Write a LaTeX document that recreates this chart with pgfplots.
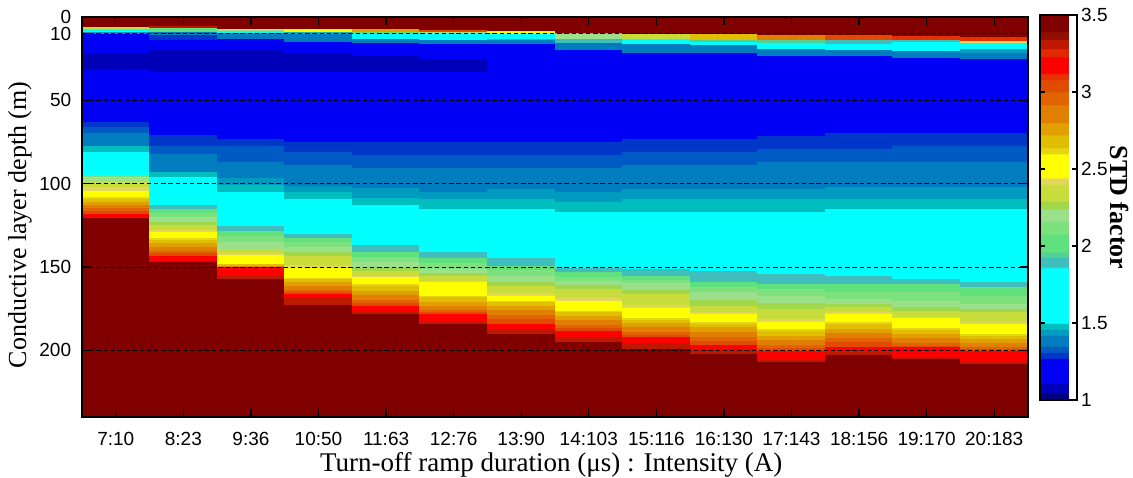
\documentclass[border=0pt]{standalone}
\usepackage{pgfplots}
\pgfplotsset{compat=1.18}
\usepackage{fontspec}
\setmainfont{Liberation Serif}
\newfontfamily\sansfont{Liberation Sans}
\pgfplotsset{/pgf/number format/assume math mode=true,
  cell/.style={surf, shader=flat corner, mesh/cols=2, point meta=explicit}}
\begin{document}
\begin{tikzpicture}
\path[use as bounding box] (0,0) rectangle (566.5pt,238.5pt);
\begin{axis}[
  at={(41pt,30pt)}, anchor=south west,
  scale only axis, width=473pt, height=200pt,
  xmin=-0.5, xmax=13.5, ymin=0, ymax=240, y dir=reverse,
  xtick={0,...,13},
  xticklabels={7:10,8:23,9:36,10:50,11:63,12:76,13:90,14:103,15:116,16:130,17:143,18:156,19:170,20:183},
  ytick={0,10,50,100,150,200},
  tick align=inside, tick pos=both, major tick length=4pt,
  tick label style={font=\sansfont\fontsize{9.5}{11}\selectfont, black},
  xticklabel style={anchor=base, yshift=-14pt},
  yticklabel style={anchor=east, xshift=-1.9pt},
  ymajorgrids, grid style={black, dash pattern=on 2.2pt off 1.4pt, line width=0.5pt},
  axis on top,
  axis line style={black, line width=0.6pt},
  every tick/.style={black, line width=0.6pt},
  xlabel={Turn-off ramp duration (μs) : Intensity (A)},
  ylabel={Conductive layer depth (m)},
  every axis x label/.style={at={(axis description cs:0.496,0)}, anchor=base, yshift=-27pt, font=\fontsize{13.5}{15}\selectfont},
  every axis y label/.style={at={(axis description cs:-0.0655,0.48)}, anchor=center, rotate=90, font=\fontsize{13}{15}\selectfont},
  colormap={stdmap}{
    rgb255(0pt)=(0,0,128) rgb255(39pt)=(0,0,128)
    rgb255(40pt)=(0,0,185) rgb255(109pt)=(0,0,185)
    rgb255(110pt)=(0,0,245) rgb255(269pt)=(0,0,245)
    rgb255(270pt)=(0,55,200) rgb255(309pt)=(0,55,200)
    rgb255(310pt)=(0,90,195) rgb255(349pt)=(0,90,195)
    rgb255(350pt)=(0,125,190) rgb255(419pt)=(0,125,190)
    rgb255(420pt)=(0,155,190) rgb255(459pt)=(0,155,190)
    rgb255(460pt)=(0,190,190) rgb255(499pt)=(0,190,190)
    rgb255(500pt)=(0,255,255) rgb255(859pt)=(0,255,255)
    rgb255(860pt)=(64,190,190) rgb255(929pt)=(64,190,190)
    rgb255(930pt)=(80,210,150) rgb255(959pt)=(80,210,150)
    rgb255(960pt)=(95,225,125) rgb255(1079pt)=(95,225,125)
    rgb255(1080pt)=(125,225,125) rgb255(1159pt)=(125,225,125)
    rgb255(1160pt)=(155,225,140) rgb255(1239pt)=(155,225,140)
    rgb255(1240pt)=(160,215,75) rgb255(1289pt)=(160,215,75)
    rgb255(1290pt)=(200,220,60) rgb255(1399pt)=(200,220,60)
    rgb255(1400pt)=(225,215,90) rgb255(1439pt)=(225,215,90)
    rgb255(1440pt)=(255,255,0) rgb255(1599pt)=(255,255,0)
    rgb255(1600pt)=(230,215,20) rgb255(1639pt)=(230,215,20)
    rgb255(1640pt)=(225,190,0) rgb255(1719pt)=(225,190,0)
    rgb255(1720pt)=(225,160,0) rgb255(1799pt)=(225,160,0)
    rgb255(1800pt)=(225,128,0) rgb255(1919pt)=(225,128,0)
    rgb255(1920pt)=(225,100,0) rgb255(1999pt)=(225,100,0)
    rgb255(2000pt)=(225,75,0) rgb255(2079pt)=(225,75,0)
    rgb255(2080pt)=(230,50,0) rgb255(2119pt)=(230,50,0)
    rgb255(2120pt)=(255,0,0) rgb255(2229pt)=(255,0,0)
    rgb255(2230pt)=(225,40,0) rgb255(2279pt)=(225,40,0)
    rgb255(2280pt)=(190,25,0) rgb255(2339pt)=(190,25,0)
    rgb255(2340pt)=(145,15,0) rgb255(2389pt)=(145,15,0)
    rgb255(2390pt)=(128,0,0) rgb255(2500pt)=(128,0,0)
  },
  point meta min=1, point meta max=3.5,
  colorbar right,
  colorbar style={
    at={(parent axis.north east)}, anchor=north west, xshift=-2.5pt, yshift=1pt,
    scale only axis, width=18.5pt, height=192.5pt,
    ytick={1,1.5,2,2.5,3,3.5},
    tick align=inside, ytick pos=both, yticklabel pos=right, major tick length=2.5pt,
    yticklabel style={font=\sansfont\fontsize{9.5}{11}\selectfont, black, anchor=west, xshift=-1.5pt},
    axis line style={black, line width=0.6pt},
    every tick/.style={black, line width=0.6pt},
    ylabel={\textbf{STD factor}},
    every axis y label/.style={at={(axis description cs:2.16,0.5)}, anchor=center, rotate=-90, font=\fontsize{13}{15}\selectfont},
  },
]
% column 7:10
\addplot[cell] coordinates {
(-0.5,0)[3.45](0.5,0)[3.45]
(-0.5,6)[2.345](0.5,6)[2.345]
(-0.5,7.5)[1.68](0.5,7.5)[1.68]
(-0.5,9)[1.44](0.5,9)[1.44]
(-0.5,10.5)[1.19](0.5,10.5)[1.19]
(-0.5,21.6)[1.075](0.5,21.6)[1.075]
(-0.5,31.6)[1.19](0.5,31.6)[1.19]
(-0.5,63.5)[1.29](0.5,63.5)[1.29]
(-0.5,66.5)[1.33](0.5,66.5)[1.33]
(-0.5,69.6)[1.385](0.5,69.6)[1.385]
(-0.5,77.5)[1.48](0.5,77.5)[1.48]
(-0.5,81.1)[1.68](0.5,81.1)[1.68]
(-0.5,95.3)[2.12](0.5,95.3)[2.12]
(-0.5,96.5)[2.20](0.5,96.5)[2.20]
(-0.5,98.5)[2.345](0.5,98.5)[2.345]
(-0.5,102.5)[2.42](0.5,102.5)[2.42]
(-0.5,104.5)[2.52](0.5,104.5)[2.52]
(-0.5,108.5)[2.62](0.5,108.5)[2.62]
(-0.5,109.5)[2.68](0.5,109.5)[2.68]
(-0.5,111)[2.76](0.5,111)[2.76]
(-0.5,113)[2.86](0.5,113)[2.86]
(-0.5,115)[2.96](0.5,115)[2.96]
(-0.5,116.5)[3.04](0.5,116.5)[3.04]
(-0.5,118.5)[3.175](0.5,118.5)[3.175]
(-0.5,121)[3.45](0.5,121)[3.45]
(-0.5,240)[3.45](0.5,240)[3.45]
};
% column 8:23
\addplot[cell] coordinates {
(0.5,0)[3.45](1.5,0)[3.45]
(0.5,5.5)[3.31](1.5,5.5)[3.31]
(0.5,6.8)[2.02](1.5,6.8)[2.02]
(0.5,9)[1.385](1.5,9)[1.385]
(0.5,11.2)[1.29](1.5,11.2)[1.29]
(0.5,14)[1.19](1.5,14)[1.19]
(0.5,20)[1.075](1.5,20)[1.075]
(0.5,33.2)[1.19](1.5,33.2)[1.19]
(0.5,71.2)[1.29](1.5,71.2)[1.29]
(0.5,77.5)[1.33](1.5,77.5)[1.33]
(0.5,82.6)[1.385](1.5,82.6)[1.385]
(0.5,93.2)[1.48](1.5,93.2)[1.48]
(0.5,96.5)[1.68](1.5,96.5)[1.68]
(0.5,113.1)[1.895](1.5,113.1)[1.895]
(0.5,115.5)[2.02](1.5,115.5)[2.02]
(0.5,118)[2.12](1.5,118)[2.12]
(0.5,120.5)[2.20](1.5,120.5)[2.20]
(0.5,123)[2.265](1.5,123)[2.265]
(0.5,125.1)[2.345](1.5,125.1)[2.345]
(0.5,128)[2.42](1.5,128)[2.42]
(0.5,129.1)[2.52](1.5,129.1)[2.52]
(0.5,133.1)[2.62](1.5,133.1)[2.62]
(0.5,134)[2.68](1.5,134)[2.68]
(0.5,136)[2.76](1.5,136)[2.76]
(0.5,138)[2.86](1.5,138)[2.86]
(0.5,140.5)[2.96](1.5,140.5)[2.96]
(0.5,142)[3.04](1.5,142)[3.04]
(0.5,143.5)[3.175](1.5,143.5)[3.175]
(0.5,146.5)[3.31](1.5,146.5)[3.31]
(0.5,147.5)[3.45](1.5,147.5)[3.45]
(0.5,240)[3.45](1.5,240)[3.45]
};
% column 9:36
\addplot[cell] coordinates {
(1.5,0)[3.45](2.5,0)[3.45]
(1.5,7.2)[2.20](2.5,7.2)[2.20]
(1.5,8.8)[1.68](2.5,8.8)[1.68]
(1.5,9.9)[1.385](2.5,9.9)[1.385]
(1.5,13.6)[1.19](2.5,13.6)[1.19]
(1.5,20)[1.075](2.5,20)[1.075]
(1.5,33.2)[1.19](2.5,33.2)[1.19]
(1.5,73.2)[1.29](2.5,73.2)[1.29]
(1.5,77.5)[1.33](2.5,77.5)[1.33]
(1.5,87.1)[1.385](2.5,87.1)[1.385]
(1.5,97.1)[1.44](2.5,97.1)[1.44]
(1.5,101)[1.48](2.5,101)[1.48]
(1.5,105.1)[1.68](2.5,105.1)[1.68]
(1.5,125.5)[1.895](2.5,125.5)[1.895]
(1.5,128.5)[2.02](2.5,128.5)[2.02]
(1.5,131.5)[2.12](2.5,131.5)[2.12]
(1.5,135.5)[2.20](2.5,135.5)[2.20]
(1.5,139.5)[2.345](2.5,139.5)[2.345]
(1.5,142)[2.42](2.5,142)[2.42]
(1.5,143)[2.52](2.5,143)[2.52]
(1.5,148.5)[2.68](2.5,148.5)[2.68]
(1.5,149.5)[2.86](2.5,149.5)[2.86]
(1.5,150.5)[3.175](2.5,150.5)[3.175]
(1.5,155.5)[3.31](2.5,155.5)[3.31]
(1.5,157.3)[3.45](2.5,157.3)[3.45]
(1.5,240)[3.45](2.5,240)[3.45]
};
% column 10:50
\addplot[cell] coordinates {
(2.5,0)[3.45](3.5,0)[3.45]
(2.5,7.2)[2.52](3.5,7.2)[2.52]
(2.5,9)[1.48](3.5,9)[1.48]
(2.5,10.6)[1.385](3.5,10.6)[1.385]
(2.5,15.2)[1.19](3.5,15.2)[1.19]
(2.5,21.6)[1.075](3.5,21.6)[1.075]
(2.5,33.2)[1.19](3.5,33.2)[1.19]
(2.5,75.1)[1.29](3.5,75.1)[1.29]
(2.5,81.1)[1.33](3.5,81.1)[1.33]
(2.5,89.1)[1.385](3.5,89.1)[1.385]
(2.5,101.5)[1.44](3.5,101.5)[1.44]
(2.5,105.5)[1.48](3.5,105.5)[1.48]
(2.5,109.5)[1.68](3.5,109.5)[1.68]
(2.5,130.5)[1.895](3.5,130.5)[1.895]
(2.5,133)[2.02](3.5,133)[2.02]
(2.5,135.1)[2.12](3.5,135.1)[2.12]
(2.5,138)[2.20](3.5,138)[2.20]
(2.5,141.5)[2.265](3.5,141.5)[2.265]
(2.5,143.5)[2.345](3.5,143.5)[2.345]
(2.5,149)[2.42](3.5,149)[2.42]
(2.5,151)[2.52](3.5,151)[2.52]
(2.5,157)[2.62](3.5,157)[2.62]
(2.5,157.5)[2.68](3.5,157.5)[2.68]
(2.5,159.5)[2.76](3.5,159.5)[2.76]
(2.5,161.5)[2.86](3.5,161.5)[2.86]
(2.5,164)[2.96](3.5,164)[2.96]
(2.5,165.5)[3.04](3.5,165.5)[3.04]
(2.5,166.5)[3.175](3.5,166.5)[3.175]
(2.5,169)[3.31](3.5,169)[3.31]
(2.5,173)[3.45](3.5,173)[3.45]
(2.5,240)[3.45](3.5,240)[3.45]
};
% column 11:63
\addplot[cell] coordinates {
(3.5,0)[3.45](4.5,0)[3.45]
(3.5,7.6)[2.76](4.5,7.6)[2.76]
(3.5,9.2)[2.02](4.5,9.2)[2.02]
(3.5,10.2)[1.68](4.5,10.2)[1.68]
(3.5,13.6)[1.385](4.5,13.6)[1.385]
(3.5,15.6)[1.19](4.5,15.6)[1.19]
(3.5,23.6)[1.075](4.5,23.6)[1.075]
(3.5,33.2)[1.19](4.5,33.2)[1.19]
(3.5,75.1)[1.29](4.5,75.1)[1.29]
(3.5,83.1)[1.33](4.5,83.1)[1.33]
(3.5,91.1)[1.385](4.5,91.1)[1.385]
(3.5,103.1)[1.44](4.5,103.1)[1.44]
(3.5,109.1)[1.48](4.5,109.1)[1.48]
(3.5,113.1)[1.68](4.5,113.1)[1.68]
(3.5,137.1)[1.895](4.5,137.1)[1.895]
(3.5,141.1)[2.02](4.5,141.1)[2.02]
(3.5,144)[2.12](4.5,144)[2.12]
(3.5,147.5)[2.20](4.5,147.5)[2.20]
(3.5,150)[2.265](4.5,150)[2.265]
(3.5,152.5)[2.345](4.5,152.5)[2.345]
(3.5,155.5)[2.42](4.5,155.5)[2.42]
(3.5,156.5)[2.52](4.5,156.5)[2.52]
(3.5,160.5)[2.62](4.5,160.5)[2.62]
(3.5,161.5)[2.68](4.5,161.5)[2.68]
(3.5,164.5)[2.76](4.5,164.5)[2.76]
(3.5,167)[2.86](4.5,167)[2.86]
(3.5,170)[2.96](4.5,170)[2.96]
(3.5,172)[3.04](4.5,172)[3.04]
(3.5,173.5)[3.175](4.5,173.5)[3.175]
(3.5,177)[3.31](4.5,177)[3.31]
(3.5,178.5)[3.45](4.5,178.5)[3.45]
(3.5,240)[3.45](4.5,240)[3.45]
};
% column 12:76
\addplot[cell] coordinates {
(4.5,0)[3.45](5.5,0)[3.45]
(4.5,8.2)[3.04](5.5,8.2)[3.04]
(4.5,9.2)[2.20](5.5,9.2)[2.20]
(4.5,10.4)[1.68](5.5,10.4)[1.68]
(4.5,14)[1.385](5.5,14)[1.385]
(4.5,16.6)[1.19](5.5,16.6)[1.19]
(4.5,25.2)[1.075](5.5,25.2)[1.075]
(4.5,33.2)[1.19](5.5,33.2)[1.19]
(4.5,75.1)[1.29](5.5,75.1)[1.29]
(4.5,83.1)[1.33](5.5,83.1)[1.33]
(4.5,91.1)[1.385](5.5,91.1)[1.385]
(4.5,105)[1.44](5.5,105)[1.44]
(4.5,109.5)[1.48](5.5,109.5)[1.48]
(4.5,115.5)[1.68](5.5,115.5)[1.68]
(4.5,141.5)[1.895](5.5,141.5)[1.895]
(4.5,145.1)[2.02](5.5,145.1)[2.02]
(4.5,148)[2.12](5.5,148)[2.12]
(4.5,151.5)[2.20](5.5,151.5)[2.20]
(4.5,154)[2.265](5.5,154)[2.265]
(4.5,155.5)[2.345](5.5,155.5)[2.345]
(4.5,158.5)[2.42](5.5,158.5)[2.42]
(4.5,159.5)[2.52](5.5,159.5)[2.52]
(4.5,167.5)[2.62](5.5,167.5)[2.62]
(4.5,168.5)[2.68](5.5,168.5)[2.68]
(4.5,171.5)[2.76](5.5,171.5)[2.76]
(4.5,173.5)[2.86](5.5,173.5)[2.86]
(4.5,176)[2.96](5.5,176)[2.96]
(4.5,177.5)[3.04](5.5,177.5)[3.04]
(4.5,178.5)[3.175](5.5,178.5)[3.175]
(4.5,183)[3.31](5.5,183)[3.31]
(4.5,184.5)[3.45](5.5,184.5)[3.45]
(4.5,240)[3.45](5.5,240)[3.45]
};
% column 13:90
\addplot[cell] coordinates {
(5.5,0)[3.45](6.5,0)[3.45]
(5.5,8.8)[2.52](6.5,8.8)[2.52]
(5.5,10.4)[1.68](6.5,10.4)[1.68]
(5.5,13.2)[1.48](6.5,13.2)[1.48]
(5.5,14)[1.385](6.5,14)[1.385]
(5.5,16.6)[1.19](6.5,16.6)[1.19]
(5.5,75.3)[1.29](6.5,75.3)[1.29]
(5.5,83.1)[1.33](6.5,83.1)[1.33]
(5.5,91.1)[1.385](6.5,91.1)[1.385]
(5.5,103.5)[1.44](6.5,103.5)[1.44]
(5.5,109.5)[1.48](6.5,109.5)[1.48]
(5.5,115.5)[1.68](6.5,115.5)[1.68]
(5.5,145.1)[1.895](6.5,145.1)[1.895]
(5.5,149.5)[2.02](6.5,149.5)[2.02]
(5.5,152)[2.12](6.5,152)[2.12]
(5.5,155.5)[2.20](6.5,155.5)[2.20]
(5.5,159)[2.265](6.5,159)[2.265]
(5.5,161.5)[2.345](6.5,161.5)[2.345]
(5.5,166)[2.42](6.5,166)[2.42]
(5.5,167.5)[2.52](6.5,167.5)[2.52]
(5.5,170.5)[2.62](6.5,170.5)[2.62]
(5.5,171.5)[2.68](6.5,171.5)[2.68]
(5.5,173.5)[2.76](6.5,173.5)[2.76]
(5.5,176)[2.86](6.5,176)[2.86]
(5.5,179)[2.96](6.5,179)[2.96]
(5.5,181.5)[3.04](6.5,181.5)[3.04]
(5.5,184.5)[3.175](6.5,184.5)[3.175]
(5.5,187.5)[3.31](6.5,187.5)[3.31]
(5.5,190.5)[3.45](6.5,190.5)[3.45]
(5.5,240)[3.45](6.5,240)[3.45]
};
% column 14:103
\addplot[cell] coordinates {
(6.5,0)[3.45](7.5,0)[3.45]
(6.5,9.6)[2.76](7.5,9.6)[2.76]
(6.5,10.6)[2.20](7.5,10.6)[2.20]
(6.5,13.6)[1.895](7.5,13.6)[1.895]
(6.5,16)[1.385](7.5,16)[1.385]
(6.5,20)[1.19](7.5,20)[1.19]
(6.5,75.3)[1.29](7.5,75.3)[1.29]
(6.5,83.1)[1.33](7.5,83.1)[1.33]
(6.5,91.1)[1.385](7.5,91.1)[1.385]
(6.5,105)[1.44](7.5,105)[1.44]
(6.5,111)[1.48](7.5,111)[1.48]
(6.5,117.5)[1.68](7.5,117.5)[1.68]
(6.5,151)[1.895](7.5,151)[1.895]
(6.5,153.5)[2.02](7.5,153.5)[2.02]
(6.5,156)[2.12](7.5,156)[2.12]
(6.5,158.5)[2.20](7.5,158.5)[2.20]
(6.5,161)[2.265](7.5,161)[2.265]
(6.5,163.5)[2.345](7.5,163.5)[2.345]
(6.5,169)[2.42](7.5,169)[2.42]
(6.5,170.5)[2.52](7.5,170.5)[2.52]
(6.5,176.5)[2.62](7.5,176.5)[2.62]
(6.5,177.5)[2.68](7.5,177.5)[2.68]
(6.5,179.5)[2.76](7.5,179.5)[2.76]
(6.5,182)[2.86](7.5,182)[2.86]
(6.5,185)[2.96](7.5,185)[2.96]
(6.5,187)[3.04](7.5,187)[3.04]
(6.5,188.5)[3.175](7.5,188.5)[3.175]
(6.5,192.5)[3.31](7.5,192.5)[3.31]
(6.5,195)[3.45](7.5,195)[3.45]
(6.5,240)[3.45](7.5,240)[3.45]
};
% column 15:116
\addplot[cell] coordinates {
(7.5,0)[3.45](8.5,0)[3.45]
(7.5,10.6)[2.345](8.5,10.6)[2.345]
(7.5,13.2)[1.68](8.5,13.2)[1.68]
(7.5,16.6)[1.385](8.5,16.6)[1.385]
(7.5,21.6)[1.19](8.5,21.6)[1.19]
(7.5,73.6)[1.29](8.5,73.6)[1.29]
(7.5,81.5)[1.33](8.5,81.5)[1.33]
(7.5,89.1)[1.385](8.5,89.1)[1.385]
(7.5,103.5)[1.44](8.5,103.5)[1.44]
(7.5,109.5)[1.48](8.5,109.5)[1.48]
(7.5,117.5)[1.68](8.5,117.5)[1.68]
(7.5,151.5)[1.895](8.5,151.5)[1.895]
(7.5,155.5)[2.02](8.5,155.5)[2.02]
(7.5,158)[2.12](8.5,158)[2.12]
(7.5,160)[2.20](8.5,160)[2.20]
(7.5,164)[2.265](8.5,164)[2.265]
(7.5,166.5)[2.345](8.5,166.5)[2.345]
(7.5,173)[2.42](8.5,173)[2.42]
(7.5,175)[2.52](8.5,175)[2.52]
(7.5,181)[2.62](8.5,181)[2.62]
(7.5,182)[2.68](8.5,182)[2.68]
(7.5,184)[2.76](8.5,184)[2.76]
(7.5,186.5)[2.86](8.5,186.5)[2.86]
(7.5,189.5)[2.96](8.5,189.5)[2.96]
(7.5,191)[3.04](8.5,191)[3.04]
(7.5,192.5)[3.175](8.5,192.5)[3.175]
(7.5,196)[3.31](8.5,196)[3.31]
(7.5,199.5)[3.45](8.5,199.5)[3.45]
(7.5,240)[3.45](8.5,240)[3.45]
};
% column 16:130
\addplot[cell] coordinates {
(8.5,0)[3.45](9.5,0)[3.45]
(8.5,10.6)[2.68](9.5,10.6)[2.68]
(8.5,14)[1.945](9.5,14)[1.945]
(8.5,15.2)[1.68](9.5,15.2)[1.68]
(8.5,17.2)[1.385](9.5,17.2)[1.385]
(8.5,21.6)[1.19](9.5,21.6)[1.19]
(8.5,73.6)[1.29](9.5,73.6)[1.29]
(8.5,81.5)[1.33](9.5,81.5)[1.33]
(8.5,89.1)[1.385](9.5,89.1)[1.385]
(8.5,103.5)[1.44](9.5,103.5)[1.44]
(8.5,109.5)[1.48](9.5,109.5)[1.48]
(8.5,117.5)[1.68](9.5,117.5)[1.68]
(8.5,152.5)[1.895](9.5,152.5)[1.895]
(8.5,159.5)[2.02](9.5,159.5)[2.02]
(8.5,162.5)[2.12](9.5,162.5)[2.12]
(8.5,165.5)[2.20](9.5,165.5)[2.20]
(8.5,170)[2.265](9.5,170)[2.265]
(8.5,173.5)[2.345](9.5,173.5)[2.345]
(8.5,177)[2.42](9.5,177)[2.42]
(8.5,178.5)[2.52](9.5,178.5)[2.52]
(8.5,183.5)[2.62](9.5,183.5)[2.62]
(8.5,184.5)[2.68](9.5,184.5)[2.68]
(8.5,186.5)[2.76](9.5,186.5)[2.76]
(8.5,189)[2.86](9.5,189)[2.86]
(8.5,192)[2.96](9.5,192)[2.96]
(8.5,194.5)[3.04](9.5,194.5)[3.04]
(8.5,197)[3.175](9.5,197)[3.175]
(8.5,200)[3.31](9.5,200)[3.31]
(8.5,202.5)[3.45](9.5,202.5)[3.45]
(8.5,240)[3.45](9.5,240)[3.45]
};
% column 17:143
\addplot[cell] coordinates {
(9.5,0)[3.45](10.5,0)[3.45]
(9.5,11.2)[2.86](10.5,11.2)[2.86]
(9.5,14)[1.945](10.5,14)[1.945]
(9.5,15.6)[1.68](10.5,15.6)[1.68]
(9.5,19.6)[1.385](10.5,19.6)[1.385]
(9.5,23.6)[1.19](10.5,23.6)[1.19]
(9.5,71.6)[1.29](10.5,71.6)[1.29]
(9.5,79.5)[1.33](10.5,79.5)[1.33]
(9.5,87.5)[1.385](10.5,87.5)[1.385]
(9.5,103.5)[1.44](10.5,103.5)[1.44]
(9.5,109.5)[1.48](10.5,109.5)[1.48]
(9.5,117.5)[1.68](10.5,117.5)[1.68]
(9.5,154.5)[1.895](10.5,154.5)[1.895]
(9.5,160.5)[2.02](10.5,160.5)[2.02]
(9.5,163.5)[2.12](10.5,163.5)[2.12]
(9.5,167.5)[2.20](10.5,167.5)[2.20]
(9.5,172)[2.265](10.5,172)[2.265]
(9.5,175.5)[2.345](10.5,175.5)[2.345]
(9.5,181.5)[2.42](10.5,181.5)[2.42]
(9.5,183)[2.52](10.5,183)[2.52]
(9.5,187.5)[2.62](10.5,187.5)[2.62]
(9.5,188.5)[2.68](10.5,188.5)[2.68]
(9.5,191.5)[2.76](10.5,191.5)[2.76]
(9.5,194)[2.86](10.5,194)[2.86]
(9.5,197)[2.96](10.5,197)[2.96]
(9.5,199)[3.04](10.5,199)[3.04]
(9.5,200.5)[3.175](10.5,200.5)[3.175]
(9.5,206)[3.31](10.5,206)[3.31]
(9.5,207)[3.45](10.5,207)[3.45]
(9.5,240)[3.45](10.5,240)[3.45]
};
% column 18:156
\addplot[cell] coordinates {
(10.5,0)[3.45](11.5,0)[3.45]
(10.5,11.2)[3.04](11.5,11.2)[3.04]
(10.5,14)[1.895](11.5,14)[1.895]
(10.5,16.6)[1.68](11.5,16.6)[1.68]
(10.5,20)[1.385](11.5,20)[1.385]
(10.5,23.6)[1.19](11.5,23.6)[1.19]
(10.5,69.6)[1.29](11.5,69.6)[1.29]
(10.5,79.5)[1.33](11.5,79.5)[1.33]
(10.5,87.5)[1.385](11.5,87.5)[1.385]
(10.5,102)[1.44](11.5,102)[1.44]
(10.5,109.5)[1.48](11.5,109.5)[1.48]
(10.5,115.5)[1.68](11.5,115.5)[1.68]
(10.5,155.5)[1.895](11.5,155.5)[1.895]
(10.5,160.5)[2.02](11.5,160.5)[2.02]
(10.5,165)[2.12](11.5,165)[2.12]
(10.5,169.5)[2.20](11.5,169.5)[2.20]
(10.5,172.5)[2.265](11.5,172.5)[2.265]
(10.5,174.5)[2.345](11.5,174.5)[2.345]
(10.5,177.5)[2.42](11.5,177.5)[2.42]
(10.5,178.5)[2.52](11.5,178.5)[2.52]
(10.5,183.5)[2.62](11.5,183.5)[2.62]
(10.5,184.5)[2.68](11.5,184.5)[2.68]
(10.5,187.5)[2.76](11.5,187.5)[2.76]
(10.5,190)[2.86](11.5,190)[2.86]
(10.5,193)[2.96](11.5,193)[2.96]
(10.5,195.5)[3.04](11.5,195.5)[3.04]
(10.5,198.5)[3.175](11.5,198.5)[3.175]
(10.5,201.5)[3.31](11.5,201.5)[3.31]
(10.5,203)[3.45](11.5,203)[3.45]
(10.5,240)[3.45](11.5,240)[3.45]
};
% column 19:170
\addplot[cell] coordinates {
(11.5,0)[3.45](12.5,0)[3.45]
(11.5,11.6)[3.10](12.5,11.6)[3.10]
(11.5,14)[1.895](12.5,14)[1.895]
(11.5,15.2)[1.68](12.5,15.2)[1.68]
(11.5,20.6)[1.385](12.5,20.6)[1.385]
(11.5,24.6)[1.19](12.5,24.6)[1.19]
(11.5,69.6)[1.29](12.5,69.6)[1.29]
(11.5,77.5)[1.33](12.5,77.5)[1.33]
(11.5,87.5)[1.385](12.5,87.5)[1.385]
(11.5,102)[1.44](12.5,102)[1.44]
(11.5,109.5)[1.48](12.5,109.5)[1.48]
(11.5,115.5)[1.68](12.5,115.5)[1.68]
(11.5,157.5)[1.895](12.5,157.5)[1.895]
(11.5,160.5)[2.02](12.5,160.5)[2.02]
(11.5,165.5)[2.12](12.5,165.5)[2.12]
(11.5,170.5)[2.20](12.5,170.5)[2.20]
(11.5,174.5)[2.265](12.5,174.5)[2.265]
(11.5,176.5)[2.345](12.5,176.5)[2.345]
(11.5,180)[2.42](12.5,180)[2.42]
(11.5,181)[2.52](12.5,181)[2.52]
(11.5,187)[2.62](12.5,187)[2.62]
(11.5,188)[2.68](12.5,188)[2.68]
(11.5,190.5)[2.76](12.5,190.5)[2.76]
(11.5,193)[2.86](12.5,193)[2.86]
(11.5,196)[2.96](12.5,196)[2.96]
(11.5,197.5)[3.04](12.5,197.5)[3.04]
(11.5,198.5)[3.175](12.5,198.5)[3.175]
(11.5,204)[3.31](12.5,204)[3.31]
(11.5,205.5)[3.45](12.5,205.5)[3.45]
(11.5,240)[3.45](12.5,240)[3.45]
};
% column 20:183
\addplot[cell] coordinates {
(12.5,0)[3.45](13.5,0)[3.45]
(12.5,12)[3.10](13.5,12)[3.10]
(12.5,14.6)[2.42](13.5,14.6)[2.42]
(12.5,16)[1.68](13.5,16)[1.68]
(12.5,19.6)[1.44](13.5,19.6)[1.44]
(12.5,22)[1.385](13.5,22)[1.385]
(12.5,25.6)[1.19](13.5,25.6)[1.19]
(12.5,69.6)[1.29](13.5,69.6)[1.29]
(12.5,77.5)[1.33](13.5,77.5)[1.33]
(12.5,87.5)[1.385](13.5,87.5)[1.385]
(12.5,102)[1.44](13.5,102)[1.44]
(12.5,109.5)[1.48](13.5,109.5)[1.48]
(12.5,115.5)[1.68](13.5,115.5)[1.68]
(12.5,159)[1.895](13.5,159)[1.895]
(12.5,162.5)[2.02](13.5,162.5)[2.02]
(12.5,167.5)[2.12](13.5,167.5)[2.12]
(12.5,172.5)[2.20](13.5,172.5)[2.20]
(12.5,175.5)[2.265](13.5,175.5)[2.265]
(12.5,177.5)[2.345](13.5,177.5)[2.345]
(12.5,183)[2.42](13.5,183)[2.42]
(12.5,184.5)[2.52](13.5,184.5)[2.52]
(12.5,190.5)[2.62](13.5,190.5)[2.62]
(12.5,191.5)[2.68](13.5,191.5)[2.68]
(12.5,193.5)[2.76](13.5,193.5)[2.76]
(12.5,196)[2.86](13.5,196)[2.86]
(12.5,198.5)[2.96](13.5,198.5)[2.96]
(12.5,199.5)[3.04](13.5,199.5)[3.04]
(12.5,200.5)[3.175](13.5,200.5)[3.175]
(12.5,207.5)[3.31](13.5,207.5)[3.31]
(12.5,208.5)[3.45](13.5,208.5)[3.45]
(12.5,240)[3.45](13.5,240)[3.45]
};
\end{axis}
\end{tikzpicture}
\end{document}
